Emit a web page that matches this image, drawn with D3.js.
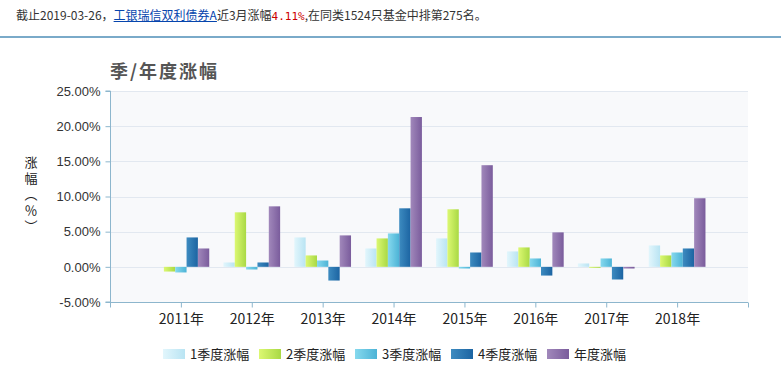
<!DOCTYPE html>
<html><head><meta charset="utf-8">
<script src="https://cdn.jsdelivr.net/npm/d3@7"></script>
<style>
body{margin:0;background:#fff;font-family:"Noto Sans CJK SC","DejaVu Sans",sans-serif;}
#head{position:absolute;left:16px;top:6px;font-size:12px;color:#333;white-space:nowrap;font-family:"Noto Sans CJK SC",sans-serif;}
#head a{color:#0645ad;text-decoration:underline;}
#head .r{color:#c00;font-family:"DejaVu Sans Mono",monospace;font-size:11px;}
#hr{position:absolute;left:0;top:36px;width:781px;height:2px;background:#7aaac9;}
svg{position:absolute;left:0;top:0;}
</style></head><body>
<div id="head">截止2019-03-26，<a>工银瑞信双利债券A</a>近3月涨幅<span class="r">4.11%</span>,在同类1524只基金中排第275名。</div>
<div id="hr"></div>
<svg id="c" width="781" height="374"></svg>
<script>
const categories = ["2011年","2012年","2013年","2014年","2015年","2016年","2017年","2018年"];
const seriesNames = ["1季度涨幅","2季度涨幅","3季度涨幅","4季度涨幅","年度涨幅"];
const q1 = [null, 0.62, 4.18, 2.61, 4.04, 2.19, 0.48, 3.04];
const q2 = [-0.67, 7.75, 1.62, 4.04, 8.18, 2.76, -0.05, 1.62];
const q3 = [-0.80, -0.38, 0.90, 4.75, -0.24, 1.19, 1.19, 2.04];
const q4 = [4.18, 0.62, -1.95, 8.32, 2.04, -1.24, -1.80, 2.61];
const annual = [2.61, 8.60, 4.47, 21.30, 14.45, 4.90, -0.24, 9.75];
const yTicks = [-5, 0, 5, 10, 15, 20, 25];
const colors = [["#e2f6fc","#b9e4f3"],["#dcf872","#a9d944"],["#86d9ee","#4cb3d6"],["#3d8bc0","#1c64a2"],["#a188bb","#7a5c9c"]];

const series = [q1,q2,q3,q4,annual];
const svg = d3.select("#c");
const L=110,R=748,T=91,B=302;
const x = d3.scaleLinear().domain([-1, categories.length]).range([L,R]);
const y = d3.scaleLinear().domain([-5,25]).range([B,T]);
const step = x(1)-x(0);
const inner = d3.scaleBand().domain(d3.range(5)).range([-step*0.4, step*0.4]).padding(0);

const defs = svg.append("defs");
colors.forEach((c,i)=>{
  const g = defs.append("linearGradient").attr("id","g"+i).attr("x1","0").attr("x2","1").attr("y1","0").attr("y2","0");
  g.append("stop").attr("offset","0").attr("stop-color",c[0]);
  g.append("stop").attr("offset","1").attr("stop-color",c[1]);
});

svg.append("text").attr("x",110).attr("y",78).attr("font-size",18).attr("font-weight","bold").attr("fill","#555")
  .attr("letter-spacing",2).attr("font-family","Noto Sans CJK SC").text("季/年度涨幅");

svg.append("rect").attr("x",L).attr("y",T).attr("width",R-L).attr("height",B-T).attr("fill","#f8f9fb");

svg.append("g").selectAll("line").data(yTicks).join("line")
  .attr("x1",L).attr("x2",R).attr("y1",d=>Math.round(y(d))+0.5).attr("y2",d=>Math.round(y(d))+0.5)
  .attr("stroke","#e2e8f0").attr("stroke-width",1);

// bars
series.forEach((s,si)=>{
  svg.append("g").selectAll("rect").data(s.map((v,i)=>({v,i})).filter(d=>d.v!==null)).join("rect")
    .attr("x",d=>x(d.i)+inner(si))
    .attr("width",inner.bandwidth())
    .attr("y",d=>y(Math.max(0,d.v)))
    .attr("height",d=>Math.max(1,Math.abs(y(d.v)-y(0))))
    .attr("fill","url(#g"+si+")");
});

// y axis
const yAxis = d3.axisLeft(y).tickValues(yTicks).tickSize(5).tickFormat(d=>d.toFixed(2)+"%");
const ya = svg.append("g").attr("transform",`translate(${L+0.5},0)`).call(yAxis);
ya.select(".domain").attr("stroke","#8db6cd").attr("d",`M-5,${y(25)}H0V${y(-5)}H-5`);
ya.selectAll(".tick line").attr("stroke","#8db6cd");
ya.selectAll(".tick text").attr("font-size",13).attr("fill","#333").attr("font-family","Liberation Sans, Arial, sans-serif").attr("x",-10);

// x axis
const xAxis = d3.axisBottom(x).tickValues(d3.range(-1,categories.length+1)).tickSize(5).tickFormat(d=>categories[d]||"");
const xa = svg.append("g").attr("transform",`translate(0,${B+0.5})`).call(xAxis);
xa.select(".domain").attr("stroke","#8db6cd").attr("d",`M${L},0H${R}`);
xa.selectAll(".tick line").attr("stroke","#8db6cd");
xa.selectAll(".tick text").attr("font-size",14).attr("fill","#222").attr("y",12).attr("font-family","Noto Sans CJK SC");

// y label (vertical, single text)
svg.append("text").attr("x",31).attr("y",156)
  .style("writing-mode","vertical-rl")
  .attr("letter-spacing",3)
  .attr("font-size",13).attr("fill","#222").attr("font-family","Noto Sans CJK SC")
  .text("涨幅（％）");

// legend
const lg = svg.append("g");
seriesNames.forEach((n,i)=>{
  const gx = 163 + i*96;
  lg.append("rect").attr("x",gx).attr("y",349).attr("width",22).attr("height",10).attr("fill","url(#g"+i+")");
  lg.append("text").attr("x",gx+27).attr("y",359).attr("font-size",13).attr("fill","#222").attr("font-family","Noto Sans CJK SC").text(n);
});
</script>
</body></html>
